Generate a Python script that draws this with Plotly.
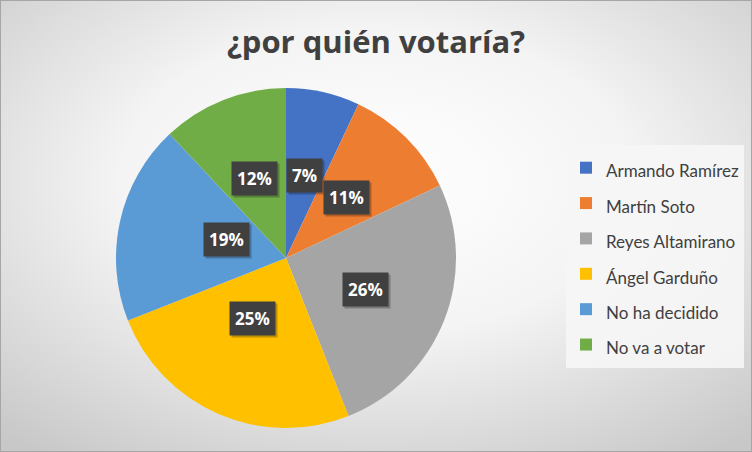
import base64
import math
import plotly.graph_objects as go

labels = ["Armando Ramírez", "Martín Soto", "Reyes Altamirano",
          "Ángel Garduño", "No ha decidido", "No va a votar"]
values = [7, 11, 26, 25, 19, 12]
colors = ["#4472C4", "#ED7D31", "#A5A5A5", "#FFC000", "#5B9BD5", "#70AD47"]

W, H = 752, 452
# pie placement in pixels
cx_px, cy_px, r_px = 286, 258, 170

# radial gradient background as an svg image
svg = (
    f'<svg xmlns="http://www.w3.org/2000/svg" width="{W}" height="{H}">'
    '<defs><radialGradient id="g" cx="50%" cy="40%" r="75%">'
    '<stop offset="0" stop-color="#ffffff"/>'
    '<stop offset="0.45" stop-color="#f4f4f4"/>'
    '<stop offset="1" stop-color="#c8c8c8"/>'
    '</radialGradient></defs>'
    f'<rect width="{W}" height="{H}" fill="url(#g)"/>'
    f'<rect x="0.5" y="0.5" width="{W-1}" height="{H-1}" fill="none" stroke="#a6a6a6" stroke-width="1"/>'
    '</svg>'
)
bg_src = "data:image/svg+xml;base64," + base64.b64encode(svg.encode()).decode()

fig = go.Figure()
fig.add_trace(go.Pie(
    # legend text sized via span, row height via legend font size
    labels=[f'<span style="font-size:17px">{l}</span>' for l in labels],
    values=values,
    sort=False,
    direction="clockwise",
    rotation=0,
    textinfo="none",
    hoverinfo="label+percent",
    marker=dict(colors=colors, line=dict(width=0)),
    domain=dict(x=[(cx_px - r_px) / W, (cx_px + r_px) / W],
                y=[1 - (cy_px + r_px) / H, 1 - (cy_px - r_px) / H]),
))

# percentage labels in dark boxes, placed at slice midpoints
total = sum(values)
cum = 0
for v in values:
    mid = (cum + v / 2) / total * 2 * math.pi
    cum += v
    x = (cx_px + 0.5 * r_px * math.sin(mid)) / W
    y = 1 - (cy_px - 0.5 * r_px * math.cos(mid)) / H
    txt = f"<b>{round(v / total * 100)}%</b>"
    # shadow
    fig.add_annotation(x=x, y=y, xref="paper", yref="paper", text=txt,
                       showarrow=False, xshift=2, yshift=-2,
                       font=dict(family="Open Sans", size=17, color="rgba(0,0,0,0)"),
                       bgcolor="rgba(0,0,0,0.25)", borderpad=5)
    fig.add_annotation(x=x, y=y, xref="paper", yref="paper", text=txt,
                       showarrow=False,
                       font=dict(family="Open Sans", size=17, color="white"),
                       bgcolor="#404040", borderpad=5)

fig.update_layout(
    width=W, height=H,
    margin=dict(l=0, r=0, t=0, b=0),
    paper_bgcolor="white",
    images=[dict(source=bg_src, xref="paper", yref="paper", x=0, y=1,
                 sizex=1, sizey=1, sizing="stretch", layer="below")],
    title=dict(text="<b>¿por quién votaría?</b>", x=0.5, xanchor="center",
               y=1 - 42 / H, yanchor="middle",
               font=dict(family="Open Sans", size=31, color="#404040")),
    showlegend=True,
    legend=dict(x=566 / W, y=1 - 145 / H, xanchor="left", yanchor="top",
                bgcolor="rgba(246,246,246,0.9)",
                font=dict(family="Lato", size=24.9, color="#404040"),
                itemclick=False),
)

fig.write_html("out.html", config={"displayModeBar": False},
               post_script="document.body.style.margin='0';")
